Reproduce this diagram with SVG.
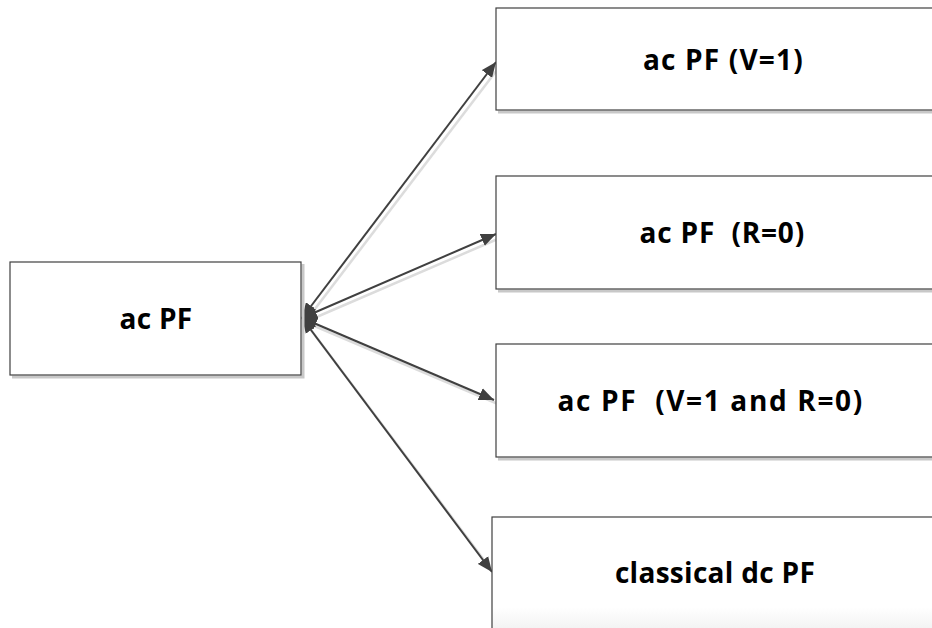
<svg xmlns="http://www.w3.org/2000/svg" width="932" height="628" viewBox="0 0 932 628">
  <defs>
    <style>
      .box { fill: #ffffff; stroke: #404040; stroke-width: 1.2; }
      .shadow { fill: none; stroke: #c8c8c8; stroke-width: 3; }
      .lbl { font-family: "Open Sans", "Liberation Sans", sans-serif; font-weight: bold; font-size: 28px; letter-spacing: 0.3px; fill: #000000; text-anchor: middle; white-space: pre; }
      .conn { stroke: #404040; stroke-width: 2; fill: none; marker-start: url(#arr); marker-end: url(#arr); }
      .connsh { stroke: #dcdcdc; stroke-width: 2.5; fill: none; }
    </style>
    <marker id="arr" viewBox="0 0 14 12" refX="14" refY="6" markerWidth="15" markerHeight="13" markerUnits="userSpaceOnUse" orient="auto-start-reverse">
      <path d="M0,0 L14,6 L0,12 z" fill="#404040"/>
    </marker>
    <linearGradient id="fade" x1="0" y1="0" x2="0" y2="1">
      <stop offset="0.75" stop-color="#ffffff"/>
      <stop offset="1" stop-color="#eeeeee"/>
    </linearGradient>
  </defs>
  <rect width="932" height="628" fill="#ffffff"/>

  <g id="connectors">
    <line class="connsh" x1="305" y1="322" x2="500" y2="66"/>
    <line class="connsh" x1="305" y1="322" x2="500" y2="238"/>
    <line class="connsh" x1="305" y1="322" x2="498" y2="404"/>
    <line class="connsh" x1="305" y1="322" x2="496" y2="576"/>
    <line class="conn" x1="302" y1="318" x2="496" y2="62"/>
    <line class="conn" x1="302" y1="318" x2="496" y2="234"/>
    <line class="conn" x1="302" y1="318" x2="494" y2="400"/>
    <line class="conn" x1="302" y1="318" x2="492" y2="572"/>
  </g>

  <g id="node-acpf">
    <polyline class="shadow" points="303,264 303,377 12,377"/>
    <rect class="box" x="10" y="262" width="291" height="113"/>
    <text class="lbl" x="156" y="329">ac PF</text>
  </g>

  <g id="node-v1">
    <polyline class="shadow" points="498,112 940,112"/>
    <rect class="box" x="496" y="8" width="444" height="102"/>
    <text class="lbl" x="723" y="70" textLength="160" lengthAdjust="spacing">ac PF (V=1)</text>
  </g>

  <g id="node-r0">
    <polyline class="shadow" points="498,291 940,291"/>
    <rect class="box" x="496" y="176" width="444" height="113"/>
    <text class="lbl" x="722" y="243" xml:space="preserve" textLength="165" lengthAdjust="spacing">ac PF  (R=0)</text>
  </g>

  <g id="node-v1r0">
    <polyline class="shadow" points="498,459 940,459"/>
    <rect class="box" x="496" y="344" width="444" height="113"/>
    <text class="lbl" x="710" y="411" xml:space="preserve" textLength="305" lengthAdjust="spacing">ac PF  (V=1 and R=0)</text>
  </g>

  <g id="node-dc">
    <rect x="492" y="517" width="448" height="120" fill="url(#fade)" stroke="#404040" stroke-width="1.2"/>
    <text class="lbl" x="715" y="583">classical dc PF</text>
  </g>
</svg>
